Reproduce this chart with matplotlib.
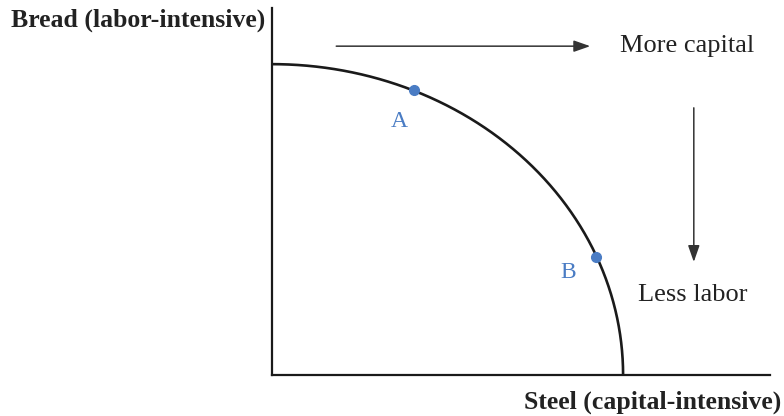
import numpy as np
import matplotlib.pyplot as plt

# production possibilities frontier (quarter ellipse), axis units 0-100
steel_max = 70.5
bread_max = 84.7

point_labels = ['A', 'B']
point_steel = [28.5, 65.1]
point_bread = [77.7, 32.2]
label_steel = [25.5, 59.4]
label_bread = [69.2, 27.8]

x_label = 'Steel (capital-intensive)'
y_label = 'Bread (labor-intensive)'

blue = '#4a7cc4'
plt.rcParams['font.family'] = ['Liberation Serif', 'DejaVu Serif']

fig = plt.figure(figsize=(7.84, 4.16), dpi=100)
ax = fig.add_axes([272 / 784, 41 / 416, 498 / 784, 367 / 416])
ax.set_xlim(0, 100)
ax.set_ylim(0, 100)
for s in ['top', 'right']:
    ax.spines[s].set_visible(False)
for s in ['left', 'bottom']:
    ax.spines[s].set_linewidth(1.6)
    ax.spines[s].set_color('#1a1a1a')
ax.set_xticks([])
ax.set_yticks([])

# frontier
t = np.linspace(0, np.pi / 2, 300)
ax.plot(steel_max * np.cos(t), bread_max * np.sin(t), color='#1a1a1a', lw=1.9,
        clip_on=False, solid_capstyle='butt')

ax.plot(point_steel, point_bread, 'o', color=blue, ms=7, zorder=5, clip_on=False)
for lab, xs, ys in zip(point_labels, label_steel, label_bread):
    ax.text(xs, ys, lab, color=blue, fontsize=17, ha='center', va='center')

# direction arrows
arrow = dict(arrowstyle='-|>,head_length=1.0,head_width=0.35', color='#333333',
             lw=1.1, shrinkA=0, shrinkB=0)
ax.annotate('', xy=(63.9, 89.6), xytext=(12.9, 89.6), arrowprops=arrow)
ax.annotate('', xy=(84.7, 30.8), xytext=(84.7, 72.8), arrowprops=arrow)
ax.text(69.8, 89.6, 'More capital', fontsize=19, ha='left', va='center', color='#222222')
ax.text(84.5, 21.8, 'Less labor', fontsize=19, ha='center', va='center', color='#222222')

# axis titles
fig.text(265 / 784, 1 - 20 / 416, y_label, fontsize=18.5, fontweight='bold',
         ha='right', va='center', color='#222222')
fig.text(781 / 784, 1 - 402 / 416, x_label, fontsize=18.5, fontweight='bold',
         ha='right', va='center', color='#222222')

fig.savefig('out.png', dpi=100)
